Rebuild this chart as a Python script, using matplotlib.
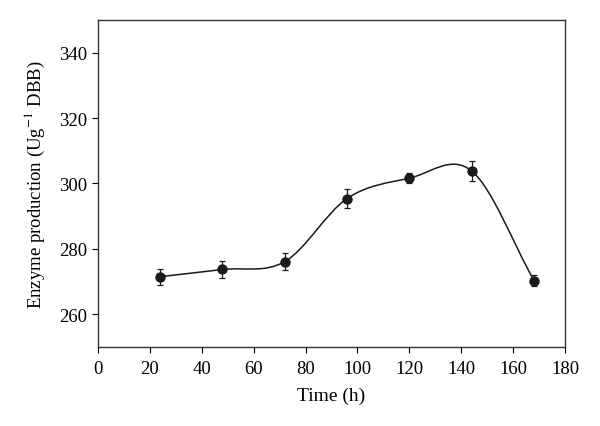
import numpy as np
import matplotlib
matplotlib.use('Agg')
import matplotlib.pyplot as plt
from matplotlib.path import Path
from matplotlib.patches import PathPatch

plt.rcParams['font.family'] = ['Liberation Serif', 'DejaVu Serif']
plt.rcParams['mathtext.fontset'] = 'stix'

time_h = [24, 48, 72, 96, 120, 144, 168]
enzyme = [271.5, 273.7, 276.1, 295.4, 301.6, 303.8, 270.3]
err = [2.4, 2.5, 2.6, 2.8, 1.6, 3.0, 1.6]

fig = plt.figure(figsize=(6, 4.27), dpi=100)
ax = fig.add_axes([0.163, 0.185, 0.779, 0.766])

# smooth line through the points: cubic Bezier segments (Catmull-Rom tangents)
x = np.array(time_h, float)
y = np.array(enzyme, float)
n = len(x)
m = np.zeros(n)
m[0] = (y[1] - y[0]) / (x[1] - x[0])
m[-1] = (y[-1] - y[-2]) / (x[-1] - x[-2])
for i in range(1, n - 1):
    m[i] = (y[i + 1] - y[i - 1]) / (x[i + 1] - x[i - 1])
verts = [(x[0], y[0])]
codes = [Path.MOVETO]
for i in range(n - 1):
    h = x[i + 1] - x[i]
    verts += [(x[i] + h / 3, y[i] + m[i] * h / 3),
              (x[i + 1] - h / 3, y[i + 1] - m[i + 1] * h / 3),
              (x[i + 1], y[i + 1])]
    codes += [Path.CURVE4] * 3
ax.add_patch(PathPatch(Path(verts, codes), facecolor='none', edgecolor='#1a1a1a', lw=1.1))

ax.errorbar(time_h, enzyme, yerr=err, fmt='o', color='#1a1a1a', ms=6.5,
            elinewidth=0.9, capsize=2.5, capthick=0.9)

ax.set_xlim(0, 180)
ax.set_ylim(250, 350)
ax.set_xticks(range(0, 181, 20))
ax.set_yticks(range(260, 341, 20))
ax.tick_params(direction='out', length=4, labelsize=13.5, top=False, right=False)
ax.tick_params(axis='x', pad=5)
for s in ax.spines.values():
    s.set_linewidth(1.0)
    s.set_color('#333333')
ax.set_xlabel('Time (h)', fontsize=14, labelpad=7)
ax.set_ylabel('Enzyme production (Ug$^{-1}$ DBB)', fontsize=13.5, labelpad=9)

fig.savefig('out.png', dpi=100)
